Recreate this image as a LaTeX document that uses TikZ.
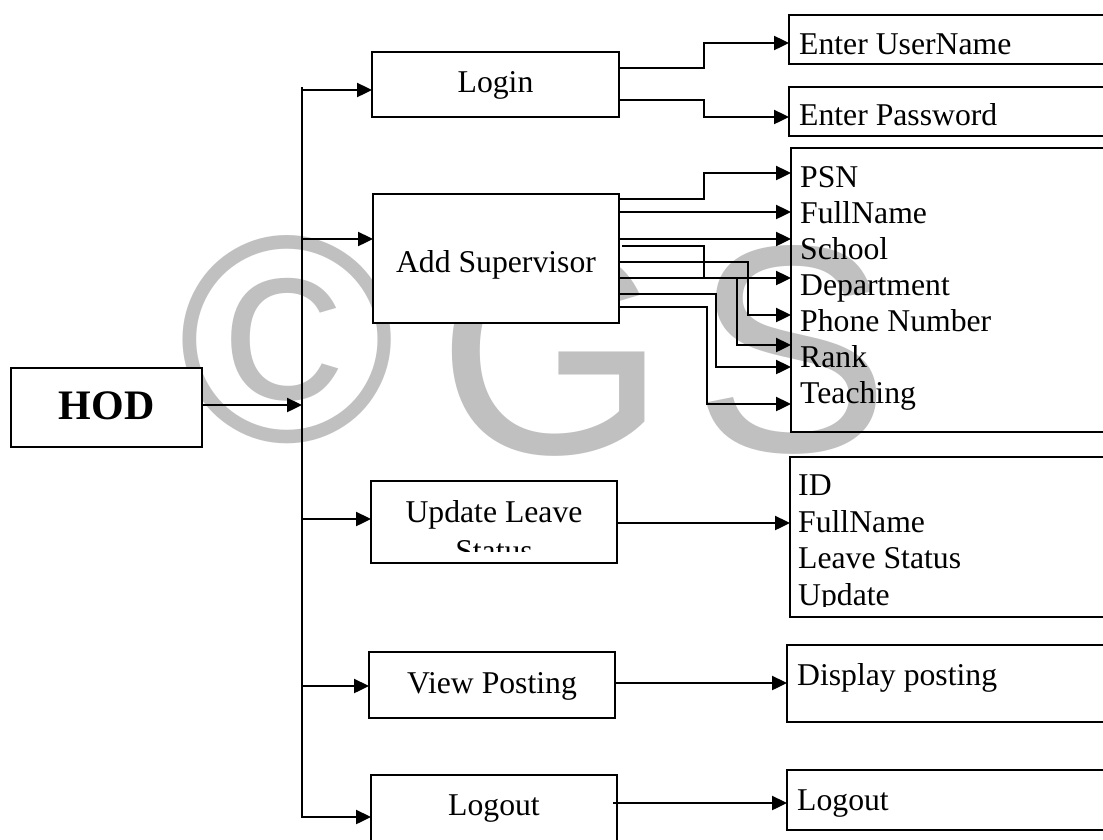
\documentclass[tikz,border=0pt]{standalone}
\usepackage{fontspec}
\setmainfont{Liberation Serif}
\newfontfamily\wmfont{Liberation Sans}
\usetikzlibrary{arrows.meta}
\definecolor{wmgray}{RGB}{192,192,192}
\begin{document}
\begin{tikzpicture}[x=1pt,y=-1pt,
  box/.style={draw=black, line width=2pt, fill=white, inner sep=0pt, outer sep=0pt, anchor=north west},
  obox/.style={draw=black, line width=2pt, inner sep=0pt, outer sep=0pt, anchor=north west},
  txt/.style={inner sep=0pt, anchor=base, font=\fontsize{31.7}{36}\selectfont},
  ltxt/.style={inner sep=0pt, anchor=base west, font=\fontsize{31.7}{36}\selectfont},
  conn/.style={line width=2.4pt},
  arr/.style={line width=2.4pt, -{Triangle[length=15pt,width=14pt]}},
  wm/.style={inner sep=0pt, text=wmgray, font=\wmfont\fontsize{295}{295}\selectfont}
]
\useasboundingbox[fill=white] (0,0) rectangle (1103,839);

% watermark
\node[wm] (wmc) at (287,340) {©};
\node[wm] (wmg) at (552,352) {G};
\node[wm] (wms) at (792,350) {S};

% left boxes
\node[box, minimum width=191pt, minimum height=79pt] (hod) at (11,368) {};
\node[box, minimum width=247pt, minimum height=65pt] (login) at (372,52) {};
\node[box, minimum width=246pt, minimum height=129pt] (sup) at (373,194) {};
\node[box, minimum width=246pt, minimum height=82pt] (upd) at (371,481) {};
\node[box, minimum width=246pt, minimum height=66pt] (view) at (369,652) {};
\node[box, minimum width=246pt, minimum height=85pt] (lout) at (371,775) {};

% right boxes
\node[obox, minimum width=331pt, minimum height=49pt] (euser) at (789,15) {};
\node[obox, minimum width=331pt, minimum height=49pt] (epass) at (789,87) {};
\node[obox, minimum width=329pt, minimum height=284pt] (slist) at (791,148) {};
\node[obox, minimum width=330pt, minimum height=160pt] (ulist) at (790,457) {};
\node[obox, minimum width=333pt, minimum height=77pt] (dpost) at (787,645) {};
\node[obox, minimum width=333pt, minimum height=60pt] (lbox) at (787,770) {};

% texts in left boxes
\node[txt, font=\bfseries\fontsize{42}{42}\selectfont] (thod) at (106.5,419) {HOD};
\node[txt] (tlogin) at (495.5,92) {Login};
\node[txt] (tsup) at (496,272) {Add Supervisor};
\node[txt] (tupd) at (494,522) {Update Leave};
\begin{scope}
  \clip (371,481) rectangle (617,551);
  \node[txt] (tupd2) at (494,561) {Status};
\end{scope}
\node[txt] (tview) at (492,693) {View Posting};
\node[txt] (tlout) at (494,815) {Logout};

% texts in right boxes
\node[ltxt] (teu) at (799,54) {Enter UserName};
\node[ltxt] (tep) at (799,125) {Enter Password};
\node[ltxt] (s1) at (800,187) {PSN};
\node[ltxt] (s2) at (800,223) {FullName};
\node[ltxt] (s3) at (800,259) {School};
\node[ltxt] (s4) at (800,295) {Department};
\node[ltxt] (s5) at (800,331) {Phone Number};
\node[ltxt] (s6) at (800,367) {Rank};
\node[ltxt] (s7) at (800,403) {Teaching};
\node[ltxt] (u1) at (798,495) {ID};
\node[ltxt] (u2) at (798,532) {FullName};
\node[ltxt] (u3) at (798,568) {Leave Status};
\begin{scope}
  \clip (790,457) rectangle (1103,606);
  \node[ltxt] (u4) at (798,605) {Update};
\end{scope}
\node[ltxt] (tdp) at (797,685) {Display posting};
\node[ltxt] (tlo) at (797,810) {Logout};

% bus
\coordinate (bustop) at (302,87);
\coordinate (busbot) at (302,818);
\draw[conn] (bustop) -- (busbot);
\draw[arr] (hod.east |- 0,405) -- (bustop |- 0,405);
\draw[arr] (bustop |- 0,90) -- (login.west |- 0,90);
\draw[arr] (bustop |- 0,239) -- (sup.west |- 0,239);
\draw[arr] (bustop |- 0,519) -- (upd.west |- 0,519);
\draw[arr] (bustop |- 0,686) -- (view.west |- 0,686);
\draw[arr] (bustop |- 0,817) -- (lout.west |- 0,817);

% login outputs
\draw[arr] (login.east |- 0,68) -- (704,68) -- (704,43) -- (euser.west |- 0,43);
\draw[arr] (login.east |- 0,100) -- (704,100) -- (704,117) -- (epass.west |- 0,117);

% supervisor outputs
\draw[arr] (sup.east |- 0,199) -- (704,199) -- (704,173) -- (slist.west |- 0,173);
\draw[arr] (sup.east |- 0,212) -- (slist.west |- 0,212);
\draw[arr] (sup.east |- 0,239) -- (slist.west |- 0,239);
\coordinate (j4) at (622,246);
\draw[conn] (j4) -- (704,246) -- (704,278);
\draw[arr] (sup.east |- 0,262) -- (748,262) -- (748,315) -- (slist.west |- 0,315);
\draw[arr] (sup.east |- 0,278) -- (slist.west |- 0,278);
\coordinate (br) at (737,278);
\draw[arr] (br) -- (737,345) -- (slist.west |- 0,345);
\draw[arr] (sup.east |- 0,294) -- (716,294) -- (716,367) -- (slist.west |- 0,367);
\draw[arr] (sup.east |- 0,307) -- (707,307) -- (707,404) -- (slist.west |- 0,404);

% other outputs
\draw[arr] (upd.east |- 0,523) -- (ulist.west |- 0,523);
\draw[arr] (view.east |- 0,683) -- (dpost.west |- 0,683);
\coordinate (lo) at (613,803);
\draw[arr] (lo) -- (lbox.west |- 0,803);
\end{tikzpicture}
\end{document}
